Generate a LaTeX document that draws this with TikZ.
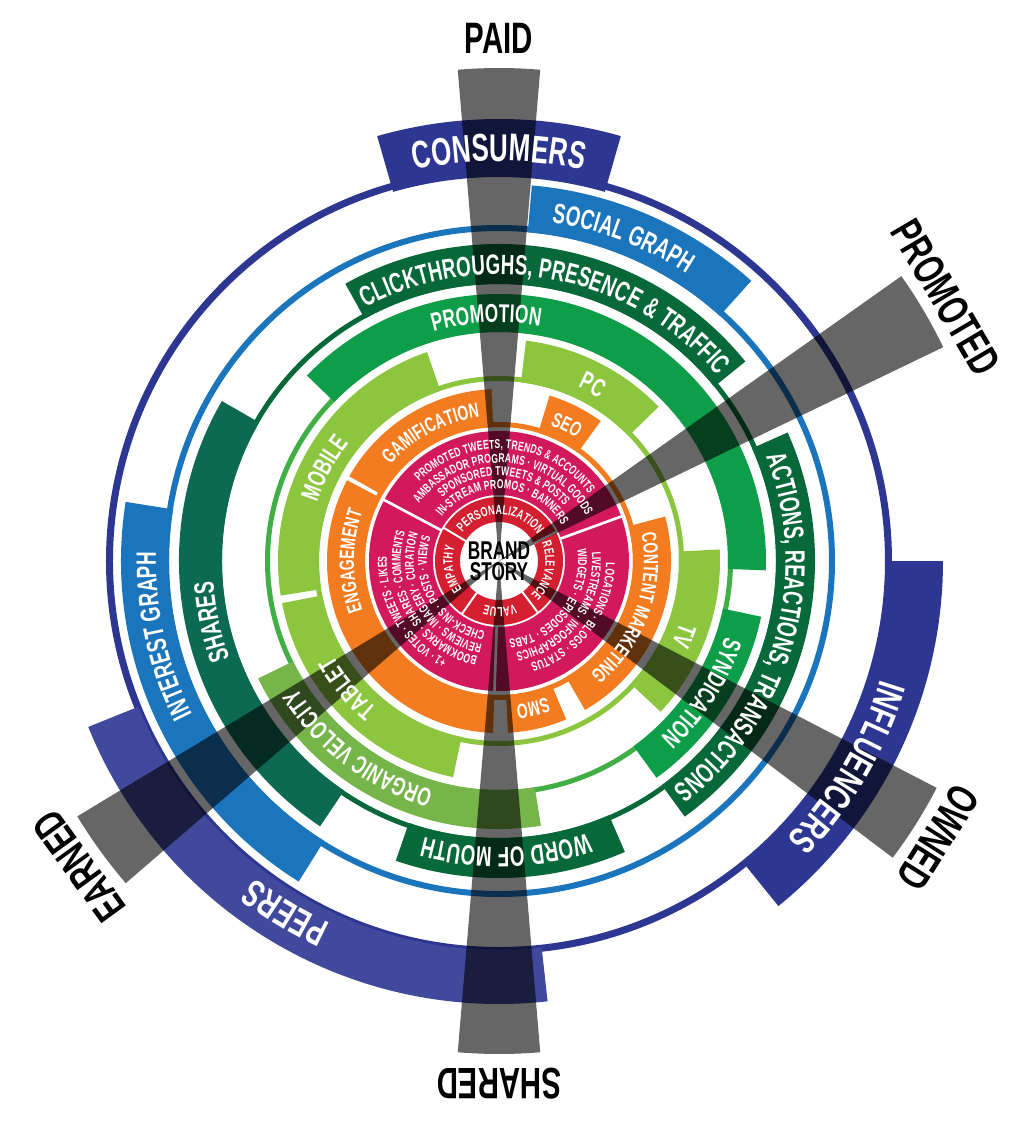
\documentclass[tikz,border=0pt]{standalone}
\usepackage{fontspec}
\newfontfamily\cond{Liberation Sans}[FakeStretch=0.67]
\newcommand{\fOut}{\cond\bfseries\fontsize{33}{33}\selectfont}
\newcommand{\fBig}{\color{white}\cond\bfseries\fontsize{29}{29}\selectfont}
\newcommand{\fL}{\color{white}\cond\bfseries\fontsize{21}{21}\selectfont}
\newcommand{\fM}{\color{white}\cond\bfseries\fontsize{19.3}{19.3}\selectfont}
\newcommand{\fO}{\color{white}\cond\bfseries\fontsize{15.5}{15.5}\selectfont}
\newcommand{\fR}{\color{white}\cond\bfseries\fontsize{10}{10}\selectfont}
\newcommand{\fS}{\color{white}\cond\bfseries\fontsize{9.6}{9.6}\selectfont}
\newcommand{\fBrand}{\cond\bfseries\fontsize{19.3}{16}\selectfont}
\definecolor{brandred}{HTML}{D31F2F}
\definecolor{mgnt}{HTML}{D1195B}
\definecolor{orng}{HTML}{F47C20}
\definecolor{ltgreen}{HTML}{8CC63F}
\definecolor{mdgreen}{HTML}{0E9E4A}
\definecolor{olgreen}{HTML}{76B54A}
\definecolor{dkgreen}{HTML}{07693A}
\definecolor{tlgreen}{HTML}{0D6A52}
\definecolor{skyblue}{HTML}{1B75BC}
\definecolor{navy}{HTML}{2D3691}
\definecolor{peerblue}{HTML}{41499D}
% colour, start angle, end angle, inner radius, outer radius
\newcommand{\ringseg}[5]{\fill[#1] (#2:#4) arc[start angle=#2,end angle=#3,radius=#4] -- (#3:#5) arc[start angle=#3,end angle=#2,radius=#5] -- cycle;}
% centre angle, baseline radius, font, text (read clockwise, ~ for a space)
\makeatletter
\newdimen\arc@w \newdimen\arc@t \newcount\arc@n
\def\arc@track{0.12pt}
\def\arc@measure#1{\pgfinterruptpicture\global\setbox1=\hbox{#1}\endpgfinterruptpicture\global\arc@w=\wd1 }
\newcommand{\arctext}[4]{\def\arc@font{#3}\def\arc@r{#2}%
  \global\arc@t=0pt \arc@sum#4\relax
  \pgfmathsetmacro\arc@a{#1+deg(\the\arc@t/(#2*0.75pt))/2}%
  \arc@loop#4\relax}
\def\arc@sum#1{\ifx#1\relax\else\arc@measure{\arc@font #1}%
  \global\advance\arc@t by\arc@w \global\advance\arc@t by\arc@track\relax\expandafter\arc@sum\fi}
\def\arc@loop#1{\ifx#1\relax\else\arc@char{#1}\expandafter\arc@loop\fi}
\def\arc@char#1{\arc@measure{\arc@font #1}\global\advance\arc@w by\arc@track\relax
  \global\advance\arc@n by 1
  \pgfmathsetmacro\arc@h{deg(\the\arc@w/(\arc@r*0.75pt))}%
  \pgfmathsetmacro\arc@c{\arc@a-\arc@h/2}%
  \node[arcchar,rotate=\arc@c-90] (arcch\the\arc@n) at (\arc@c:\arc@r) {\arc@font #1};%
  \pgfmathsetmacro\arc@a{\arc@a-\arc@h}}
\makeatother
\tikzset{every picture/.style={line width=0.75pt}}
\tikzset{wedge/.style={fill=black,fill opacity=0.6}, outlbl/.style={font=\fOut,text=black,inner sep=0pt},
  arcchar/.style={anchor=base,inner sep=0pt,outer sep=0pt}}

\begin{document}
\begin{tikzpicture}[x=0.75pt,y=0.75pt,yscale=1,xscale=1]
%set diagram frame, centre of the rings at (0,0)
\fill[white] (-499,-561) rectangle (532,561);
\useasboundingbox (-499,-561) rectangle (532,561);

%Shape: Arc [outer ring: consumers, influencers, peers]
\ringseg{navy}{0}{360}{386}{393}
\ringseg{navy}{74}{106}{384}{442}
\ringseg{navy}{-51}{0}{387}{444}
\ringseg{peerblue}{202}{276.3}{389}{443}
%Shape: Arc [graph ring]
\ringseg{skyblue}{0}{360}{330}{336}
\ringseg{skyblue}{48}{85}{330}{377}
\ringseg{skyblue}{171}{238}{330}{378}
%Shape: Arc [dark green ring]
\ringseg{dkgreen}{0}{360}{277}{282}
\ringseg{dkgreen}{39}{119}{277}{317}
\ringseg{dkgreen}{-54}{24}{277}{316}
\ringseg{dkgreen}{251}{293.4}{277}{317}
\ringseg{tlgreen}{150}{236}{277}{320}
%Shape: Arc [mid green ring]
\ringseg{mdgreen!60!ltgreen}{0}{360}{229}{234}
\ringseg{mdgreen}{-2}{136}{229}{267}
\ringseg{mdgreen}{-54}{-12}{229}{268}
\ringseg{olgreen}{206}{279}{229}{268}
%Shape: Arc [light green ring]
\ringseg{ltgreen}{0}{360}{180}{185}
\ringseg{ltgreen}{109}{189}{180}{221}
\ringseg{ltgreen}{44}{83}{180}{222}
\ringseg{ltgreen}{-43}{3}{180}{221}
\ringseg{ltgreen}{191}{258}{180}{221}
%Shape: Arc [orange ring]
\ringseg{orng}{0}{360}{134}{139}
\ringseg{orng}{92.5}{150.5}{134}{172}
\ringseg{orng}{54}{73}{134}{173}
\ringseg{orng}{-60}{15}{134}{172}
\ringseg{orng}{-87}{-67}{134}{172}
\ringseg{orng}{152}{268}{134}{172}
%Shape: Arc [magenta and red rings]
\ringseg{mgnt}{0}{360}{66}{130}
\ringseg{brandred}{0}{360}{39}{64}
\foreach \a in {20,152,268} \draw[white,line width=2pt] (\a:65) -- (\a:131);
\foreach \a in {27,149,235,307} \draw[white,line width=1.5pt] (\a:38) -- (\a:65);
%Shape: Circle [centre]
\fill[white] (0,0) circle (37);

%Shape: Wedges
\foreach \a in {90,30.5,-32.2,270,216}
  \fill[wedge] (0,0) -- ({\a-4.8}:493) arc[start angle={\a-4.8},end angle={\a+4.8},radius=493] -- cycle;

% Text along arcs
\arctext{90}{400}{\fBig}{CONSUMERS}
\arctext{-30.6}{400}{\fBig}{INFLUENCERS}
\arctext{238.7}{400}{\fBig}{PEERS}
\arctext{69}{343}{\fL}{SOCIAL~GRAPH}
\arctext{192.5}{343}{\fL}{INTEREST~GRAPH}
\arctext{79}{286.5}{\fL}{CLICKTHROUGHS,~PRESENCE~\&~TRAFFIC}
\arctext{-15.6}{286.5}{\fL}{ACTIONS,~REACTIONS,~TRANSACTIONS}
\arctext{271.4}{286.5}{\fL}{WORD~OF~MOUTH}
\arctext{192}{286.5}{\fL}{SHARES}
\arctext{93}{238.6}{\fM}{PROMOTION}
\arctext{233}{238.6}{\fM}{ORGANIC~VELOCITY}
\arctext{-33}{238.6}{\fM}{SYNDICATION}
\arctext{152}{191}{\fM}{MOBILE}
\arctext{62}{191}{\fM}{PC}
\arctext{-22}{191}{\fM}{TV}
\arctext{220}{191}{\fM}{TABLET}
\arctext{118}{145}{\fO}{GAMIFICATION}
\arctext{63.5}{145}{\fO}{SEO}
\arctext{-20}{145}{\fO}{CONTENT~MARKETING}
\arctext{-77}{145}{\fO}{SMO}
\arctext{180}{145}{\fO}{ENGAGEMENT}
\arctext{86}{112.2}{\fS}{PROMOTED~TWEETS,~TRENDS~\&~ACCOUNTS}
\arctext{86}{98.2}{\fS}{AMBASSADOR~PROGRAMS~·~VIRTUAL~GOODS}
\arctext{86}{85.2}{\fS}{SPONSORED~TWEETS~\&~POSTS}
\arctext{86}{72.2}{\fS}{IN-STREAM~PROMOS~·~BANNERS}
\arctext{210}{112.2}{\fS}{+1~·~VOTES~·~TWEETS~·~LIKES}
\arctext{210}{98.2}{\fS}{BOOKMARKS~·~SHARES~·~COMMENTS}
\arctext{210}{85.2}{\fS}{REVIEWS~·~IMAGERY~·~CURATION}
\arctext{210}{72.2}{\fS}{CHECK-INS~·~POSTS~·~VIEWS}
\arctext{-37}{107.2}{\fS}{LOCATIONS~·~BLOGS~·~STATUS}
\arctext{-37}{93.2}{\fS}{LIVESTREAMS~·~INFOGRAPHICS}
\arctext{-37}{79.2}{\fS}{WIDGETS~·~EPISODES~·~TABS}
\arctext{88}{46.5}{\fR}{PERSONALIZATION}
\arctext{348}{46.5}{\fR}{RELEVANCE}
\arctext{271}{46.5}{\fR}{VALUE}
\arctext{190}{46.5}{\fR}{EMPATHY}

% Text Node
\node[font=\fBrand,align=center,inner sep=0pt] (brand) at (0,0) {BRAND\\STORY};
% Text Node
\node[outlbl] (paid) at (90:523) {PAID};
% Text Node
\node[outlbl,rotate=-59.5] (promoted) at (30.5:519) {PROMOTED};
% Text Node
\node[outlbl,rotate=-122.2] (owned) at (-32.2:519) {OWNED};
% Text Node
\node[outlbl,rotate=180] (shared) at (270:523) {SHARED};
% Text Node
\node[outlbl,rotate=126] (earned) at (216:519) {EARNED};

\end{tikzpicture}
\end{document}
